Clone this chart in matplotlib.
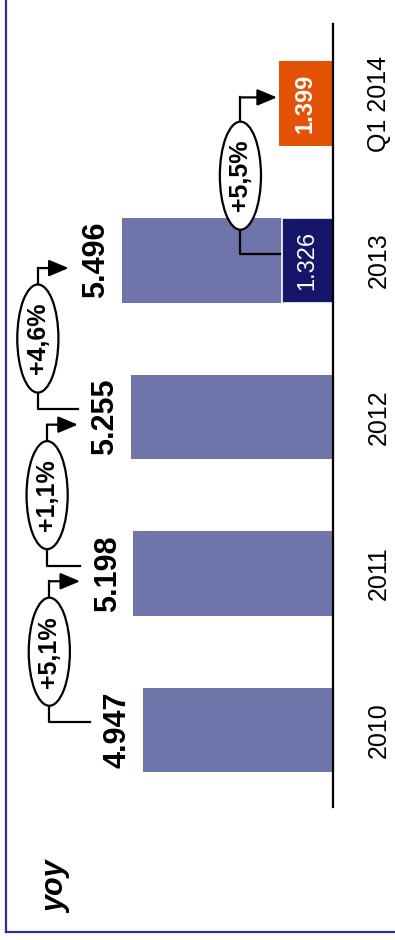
import matplotlib.pyplot as plt
from matplotlib.patches import Ellipse
from matplotlib.lines import Line2D

plt.rcParams["font.family"] = ["Liberation Sans", "DejaVu Sans"]

# data
categories = ["2010", "2011", "2012", "2013", "Q1 2014"]
annual = [4.947, 5.198, 5.255, 5.496]
q4_2013 = 1.326
q1_2014 = 1.399
growth = ["+5,1%", "+1,1%", "+4,6%", "+5,5%"]

LIGHT = "#6f74ab"
NAVY = "#15166a"
ORANGE = "#e35205"
FRAME = "#2e3192"

fig = plt.figure(figsize=(3.95, 9.4), dpi=100)
ax = fig.add_axes([0, 0, 1, 1])
ax.set_xlim(8.66, -1.61)
ax.set_ylim(-1.341, 4.662)
ax.axis("off")

pos = list(range(len(categories)))
h = 0.54

# bars
ax.barh(pos[:4], annual, height=h, color=LIGHT, zorder=2)
ax.barh(pos[3], q4_2013, height=h, color=NAVY, edgecolor="white", linewidth=1.2, zorder=3)
ax.barh(pos[4], q1_2014, height=h, color=ORANGE, zorder=3)

# baseline
ax.plot([0, 0], [-0.49, 4.51], color="black", lw=1.6, zorder=4)

# labels
for p, v in zip(pos[:4], annual):
    ax.text(v + 0.66, p, f"{v:.3f}", rotation=90, ha="center", va="center",
            fontsize=22, fontweight="bold", zorder=5)
ax.text(q4_2013 / 2 + 0.02, pos[3], f"{q4_2013:.3f}", rotation=90, ha="center",
        va="center", fontsize=17, color="white", zorder=5)
ax.text(q1_2014 / 2 + 0.02, pos[4], f"{q1_2014:.3f}", rotation=90, ha="center",
        va="center", fontsize=17, fontweight="bold", color="white", zorder=5)
for p, c in zip(pos, categories):
    ax.text(-1.2, p, c, rotation=90, ha="center", va="center", fontsize=18, zorder=5)


def connector(x0, x1, col, y0, y1, label):
    ax.add_line(Line2D([x0, col, col], [y0, y0, y1], color="black", lw=1.6, zorder=6))
    ax.annotate("", xy=(x1, y1), xytext=(col, y1),
                arrowprops=dict(arrowstyle="-|>,head_length=1.0,head_width=0.42",
                                color="black", lw=1.6, mutation_scale=12,
                                shrinkA=0, shrinkB=0), zorder=6)
    ym = (y0 + y1) / 2
    ax.add_patch(Ellipse((col, ym), 1.07, 0.69, facecolor="white", edgecolor="black",
                         lw=1.6, zorder=7))
    ax.text(col, ym, label, rotation=90, ha="center", va="center", fontsize=18,
            fontweight="bold", zorder=8)


dy = 0.05
for i in range(3):
    a = annual[i] + 1.38
    b = annual[i + 1] + 1.38
    connector(a, b, max(a, b) + 0.8, pos[i] + dy, pos[i + 1] - dy, growth[i])

a = q4_2013 + 0.06
b = q1_2014 + 0.06
connector(a, b, max(a, b) + 0.95, pos[3] + 0.04, pos[4] + 0.04, growth[3])

# yoy
ax.text(7.2, -1.0, "yoy", rotation=90, ha="center", va="center", fontsize=22,
        fontweight="bold", fontstyle="italic")

# frame (left and bottom)
fig.add_artist(Line2D([6 / 395, 6 / 395], [1, 8 / 940], transform=fig.transFigure,
                      color=FRAME, lw=1.6))
fig.add_artist(Line2D([6 / 395, 1], [8 / 940, 8 / 940], transform=fig.transFigure,
                      color=FRAME, lw=1.6))

fig.savefig("out.png", dpi=100)
